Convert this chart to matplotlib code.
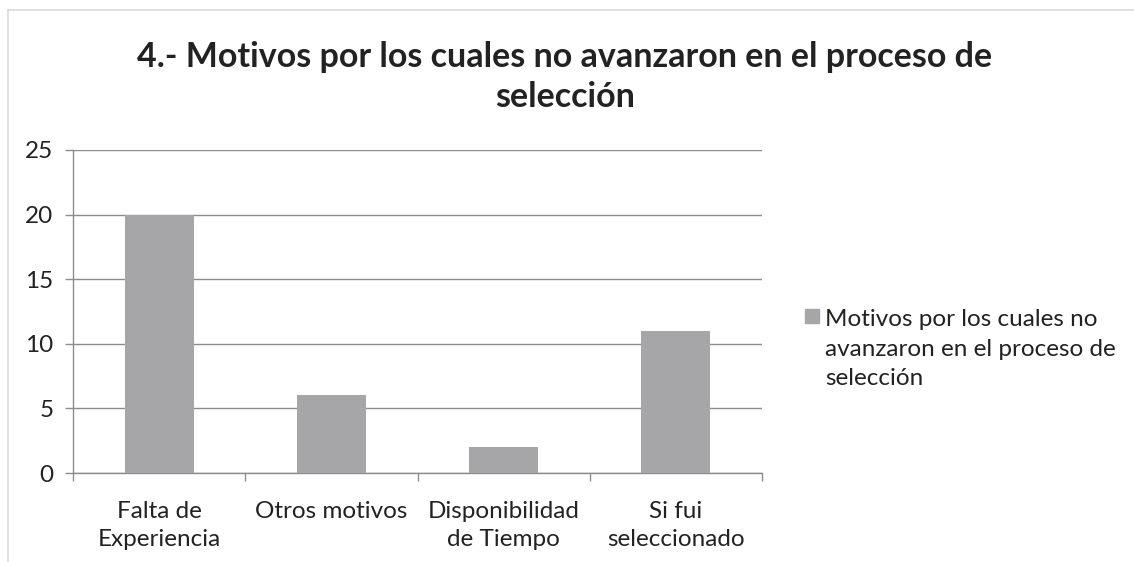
import matplotlib
matplotlib.use("Agg")
import matplotlib.pyplot as plt
from matplotlib.lines import Line2D

plt.rcParams['font.family'] = ['Lato', 'DejaVu Sans']

categories = ["Falta de\nExperiencia", "Otros motivos", "Disponibilidad\nde Tiempo", "Si fui\nseleccionado"]
values = [20, 6, 2, 11]
series_name = "Motivos por los cuales no\navanzaron en el proceso de\nselección"
title = "4.- Motivos por los cuales no avanzaron en el proceso de\nselección"
yticks = [0, 5, 10, 15, 20, 25]

W, H = 1134, 562
fig = plt.figure(figsize=(W / 100, H / 100), dpi=100)
fig.patch.set_facecolor("white")

ax = fig.add_axes([73 / W, 1 - 473 / H, (762 - 73) / W, (473 - 150) / H])

x = list(range(len(categories)))
bars = ax.bar(x, values, width=0.4, color="#A6A6A8", zorder=3, label=series_name)

ax.set_xlim(-0.5, len(categories) - 0.5)
ax.set_ylim(0, 25)
ax.set_yticks(yticks)
ax.set_yticklabels([str(v) for v in yticks], fontsize=17.5, color="#222222")
ax.yaxis.grid(True, color="#8C8C8C", linewidth=1.0, zorder=0)
ax.set_axisbelow(True)

ax.set_xticks(x)
ax.set_xticklabels(categories, fontsize=17.5, color="#222222", linespacing=1.45)
ax.tick_params(axis="x", which="major", length=0, pad=20)
ax.set_xticks([i - 0.5 for i in range(len(categories) + 1)], minor=True)
ax.tick_params(axis="x", which="minor", length=6, color="#8C8C8C", width=1)
ax.tick_params(axis="y", which="major", length=6, color="#8C8C8C", width=1, pad=8)

for s in ["top", "right"]:
    ax.spines[s].set_visible(False)
for s in ["left", "bottom"]:
    ax.spines[s].set_color("#8C8C8C")
    ax.spines[s].set_linewidth(1.0)

fig.text(565 / W, 1 - 77 / H, title, ha="center", va="center", fontsize=24.5,
         fontweight="bold", color="#222222", linespacing=1.3)

# legend
fig.patches.append(plt.Rectangle((805 / W, 1 - 323 / H), 14 / W, 14 / H,
                                 transform=fig.transFigure, color="#A6A6A8"))
fig.text(825 / W, 1 - 349 / H, series_name, ha="left", va="center", fontsize=17.5,
         color="#222222", linespacing=1.48)

# outer chart frame (top and left edges visible)
fig.add_artist(Line2D([8 / W, 1], [1 - 10 / H, 1 - 10 / H], transform=fig.transFigure,
                      color="#D9D9D9", linewidth=1.2))
fig.add_artist(Line2D([8 / W, 8 / W], [0, 1 - 10 / H], transform=fig.transFigure,
                      color="#D9D9D9", linewidth=1.2))

fig.savefig("out.png", dpi=100)
